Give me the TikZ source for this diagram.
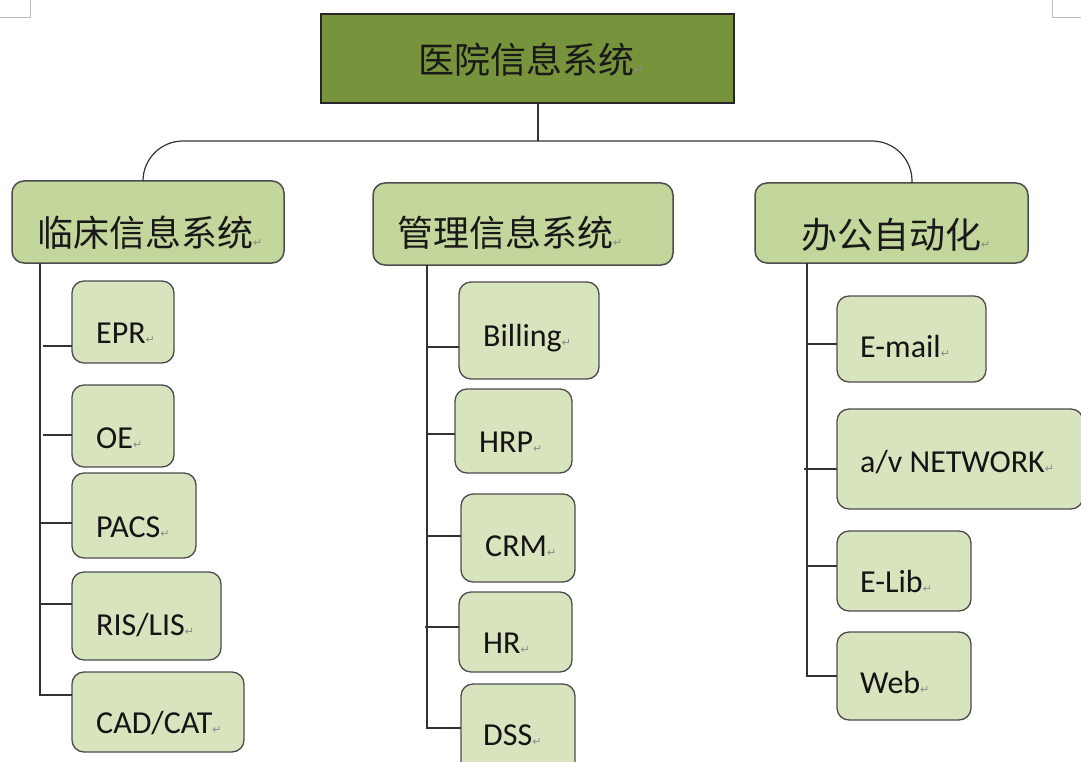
\documentclass[tikz,border=0pt]{standalone}
\usepackage{fontspec}
\setmainfont{Carlito}
\newfontfamily\cjk{Noto Sans CJK SC}
\newfontfamily\djv{DejaVu Sans}
\newcommand\retmk{{\djv\fontsize{11}{11}\selectfont\color{black!45}↵}}
\definecolor{topgreen}{HTML}{77933C}
\definecolor{midgreen}{HTML}{C3D69B}
\definecolor{leafgreen}{HTML}{D7E4BD}
\begin{document}
\begin{tikzpicture}[x=1pt,y=-1pt,
  topbox/.style={rectangle,draw=black!85,fill=topgreen,line width=1.3pt,inner sep=0pt,outer sep=0pt},
  midbox/.style={rectangle,rounded corners=12pt,draw=black!70,fill=midgreen,line width=1.5pt,inner sep=0pt,outer sep=0pt},
  leafbox/.style={rectangle,rounded corners=12pt,draw=black!70,fill=leafgreen,line width=1.3pt,inner sep=0pt,outer sep=0pt},
  zhlbl/.style={inner sep=0pt,anchor=base west,font=\cjk\fontsize{36}{36}\selectfont,text=black!90},
  enlbl/.style={inner sep=0pt,anchor=base west,font=\fontsize{32}{32}\selectfont,text=black!92},
  conn/.style={draw=black!80,line width=1.2pt},
  pagemark/.style={draw=black!25,line width=0.8pt}
]
\useasboundingbox (0,0) rectangle (1081,762);
\clip (0,0) rectangle (1081,762);
\fill[white] (0,0) rectangle (1081,762);
% page corner marks
\coordinate (tl0) at (0,17);
\coordinate (tl1) at (30,0);
\coordinate (tr0) at (1081,17);
\coordinate (tr1) at (1052,0);
\draw[pagemark] (tl0) -| (tl1);
\draw[pagemark] (tr0) -| (tr1);

% top
\node[topbox,minimum width=413pt,minimum height=89pt] (top) at (527.5,58.5) {};
\node[zhlbl] (topT) at (418,74) {医院信息系统\retmk};

% second level
\node[midbox,minimum width=272pt,minimum height=82pt] (c1) at (148,222) {};
\node[midbox,minimum width=300pt,minimum height=82pt] (c2) at (523,224) {};
\node[midbox,minimum width=273pt,minimum height=80pt] (c3) at (891.5,223) {};
\node[zhlbl] (c1T) at (37,246) {临床信息系统\retmk};
\node[zhlbl] (c2T) at (397,246) {管理信息系统\retmk};
\node[zhlbl] (c3T) at (801,248) {办公自动化\retmk};

% connectors top -> second level
\coordinate (j) at (538,141);
\draw[conn] (top.south -| j) -- (j);
\draw[conn,rounded corners=40pt] (c1.north -| 143,0) -- (143,141) -- (912,141) -- (c3.north -| 912,0);

% left column
\node[leafbox,minimum width=102pt,minimum height=82pt] (epr) at (123,322) {};
\node[leafbox,minimum width=102pt,minimum height=82pt] (oe) at (123,426) {};
\node[leafbox,minimum width=124pt,minimum height=85pt] (pacs) at (134,515.5) {};
\node[leafbox,minimum width=149pt,minimum height=88pt] (ris) at (146.5,616) {};
\node[leafbox,minimum width=172pt,minimum height=80pt] (cad) at (158,712) {};
\node[enlbl] (eprT) at (96,343) {EPR\retmk};
\node[enlbl] (oeT) at (96,448) {OE\retmk};
\node[enlbl] (pacsT) at (96,537) {PACS\retmk};
\node[enlbl] (risT) at (96,635) {RIS/LIS\retmk};
\node[enlbl] (cadT) at (96,733) {CAD/CAT\retmk};
\coordinate (lv) at (40,695);
\draw[conn] (c1.south -| lv) -- (lv) -- (cad.west |- lv);
\draw[conn] (43,346) -- (epr.west |- 0,346);
\draw[conn] (43,435) -- (oe.west |- 0,435);
\draw[conn] (lv |- 0,523) -- (pacs.west |- 0,523);
\draw[conn] (lv |- 0,604) -- (ris.west |- 0,604);

% middle column
\node[leafbox,minimum width=140pt,minimum height=97pt] (bill) at (529,330.5) {};
\node[leafbox,minimum width=117pt,minimum height=84pt] (hrp) at (513.5,431) {};
\node[leafbox,minimum width=114pt,minimum height=88pt] (crm) at (518,538) {};
\node[leafbox,minimum width=113pt,minimum height=80pt] (hr) at (515.5,632) {};
\node[leafbox,minimum width=114pt,minimum height=91pt] (dss) at (518,729.5) {};
\node[enlbl] (billT) at (483,346) {Billing\retmk};
\node[enlbl] (hrpT) at (479,452) {HRP\retmk};
\node[enlbl] (crmT) at (485,556) {CRM\retmk};
\node[enlbl] (hrT) at (483,653) {HR\retmk};
\node[enlbl] (dssT) at (483,745) {DSS\retmk};
\coordinate (mv) at (427,728);
\draw[conn] (c2.south -| mv) -- (mv) -- (dss.west |- mv);
\draw[conn] (mv |- 0,347) -- (bill.west |- 0,347);
\draw[conn] (mv |- 0,434) -- (hrp.west |- 0,434);
\draw[conn] (mv |- 0,536) -- (crm.west |- 0,536);
\draw[conn] (425,627) -- (hr.west |- 0,627);

% right column
\node[leafbox,minimum width=149pt,minimum height=86pt] (email) at (911.5,339) {};
\node[leafbox,minimum width=246pt,minimum height=100pt] (net) at (960,459) {};
\node[leafbox,minimum width=134pt,minimum height=80pt] (elib) at (904,571) {};
\node[leafbox,minimum width=134pt,minimum height=88pt] (web) at (904,676) {};
\node[enlbl] (emailT) at (860,357) {E-mail\retmk};
\node[enlbl] (netT) at (860,472) {a/v NETWORK\retmk};
\node[enlbl] (elibT) at (860,592) {E-Lib\retmk};
\node[enlbl] (webT) at (860,693) {Web\retmk};
\coordinate (rv) at (807,676);
\draw[conn] (c3.south -| rv) -- (rv) -- (web.west |- rv);
\draw[conn] (rv |- 0,344) -- (email.west |- 0,344);
\draw[conn] (804,469) -- (net.west |- 0,469);
\draw[conn] (rv |- 0,566) -- (elib.west |- 0,566);
\end{tikzpicture}
\end{document}
